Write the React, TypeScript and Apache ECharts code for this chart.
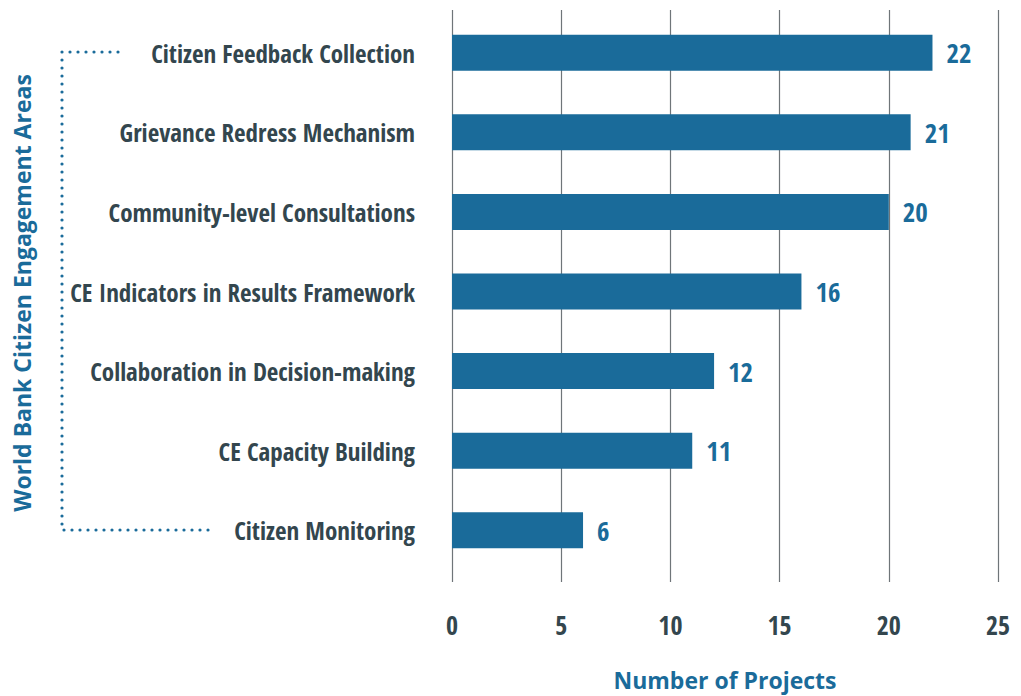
import React, { useEffect, useRef } from "react";
import * as echarts from "echarts";

const categories = [
  "Citizen Feedback Collection",
  "Grievance Redress Mechanism",
  "Community-level Consultations",
  "CE Indicators in Results Framework",
  "Collaboration in Decision-making",
  "CE Capacity Building",
  "Citizen Monitoring",
];
const projects = [22, 21, 20, 16, 12, 11, 6];
const xTicks = [0, 5, 10, 15, 20, 25];
const xAxisTitle = "Number of Projects";
const yAxisTitle = "World Bank Citizen Engagement Areas";

const BLUE = "#1a6b9a";
const DARK = "#33464e";
const COND = "'Open Sans Condensed', 'Roboto Condensed', sans-serif";
const WIDE = "'Open Sans', 'Noto Sans', sans-serif";

export default function App() {
  const ref = useRef<HTMLDivElement>(null);
  useEffect(() => {
    if (!ref.current) return;
    const chart = echarts.init(ref.current, null, { renderer: "svg" });
    const left = 452;
    const right = 1021 - 998;
    chart.setOption({
      animation: false,
      textStyle: { fontFamily: COND },
      grid: [
        { left, right, top: 10, bottom: 696 - 582, outerBoundsMode: "none", containLabel: false },
        { left, right, top: 13, bottom: 696 - 570, outerBoundsMode: "none", containLabel: false },
      ],
      xAxis: [
        {
          gridIndex: 0,
          type: "value",
          min: xTicks[0],
          max: xTicks[xTicks.length - 1],
          interval: 5,
          axisLine: { show: false },
          axisTick: { show: false },
          splitLine: { show: true, lineStyle: { color: "#6f7579", width: 1.2 } },
          axisLabel: {
            margin: 30,
            color: DARK,
            fontFamily: COND,
            fontWeight: "bold",
            fontSize: 26,
          },
          name: xAxisTitle,
          nameLocation: "middle",
          nameGap: 86,
          nameTextStyle: { color: BLUE, fontFamily: WIDE, fontWeight: "bold", fontSize: 23 },
        },
        {
          gridIndex: 1,
          type: "value",
          min: 0,
          max: 25,
          interval: 5,
          show: false,
          splitLine: { show: false },
        },
      ],
      yAxis: [
        {
          gridIndex: 0,
          type: "category",
          data: categories,
          show: false,
        },
        {
          gridIndex: 1,
          type: "category",
          data: categories,
          inverse: true,
          axisLine: { show: false },
          axisTick: { show: false },
          axisLabel: {
            margin: 37,
            color: DARK,
            fontFamily: COND,
            fontWeight: "bold",
            fontSize: 25,
          },
        },
      ],
      graphic: [
        {
          type: "text",
          x: 22,
          y: 293,
          rotation: Math.PI / 2,
          style: {
            text: yAxisTitle,
            fill: BLUE,
            font: `bold 23px ${WIDE}`,
            textAlign: "center",
            textVerticalAlign: "middle",
          },
        },
        {
          type: "polyline",
          shape: { points: [[118, 52], [62, 52], [62, 530], [214, 530]] },
          style: { stroke: BLUE, lineWidth: 3.2, lineDash: [0, 8], lineCap: "round", fill: null },
        },
      ],
      series: [
        {
          type: "bar",
          xAxisIndex: 1,
          yAxisIndex: 1,
          data: projects,
          barWidth: 36,
          itemStyle: { color: BLUE },
          label: {
            show: true,
            position: "right",
            distance: 14,
            color: BLUE,
            fontFamily: COND,
            fontWeight: "bold",
            fontSize: 27,
          },
        },
      ],
    });
    return () => chart.dispose();
  }, []);
  return (
    <div
      ref={ref}
      style={{ position: "fixed", left: 0, top: 0, width: 1021, height: 696, background: "#fff" }}
    />
  );
}
